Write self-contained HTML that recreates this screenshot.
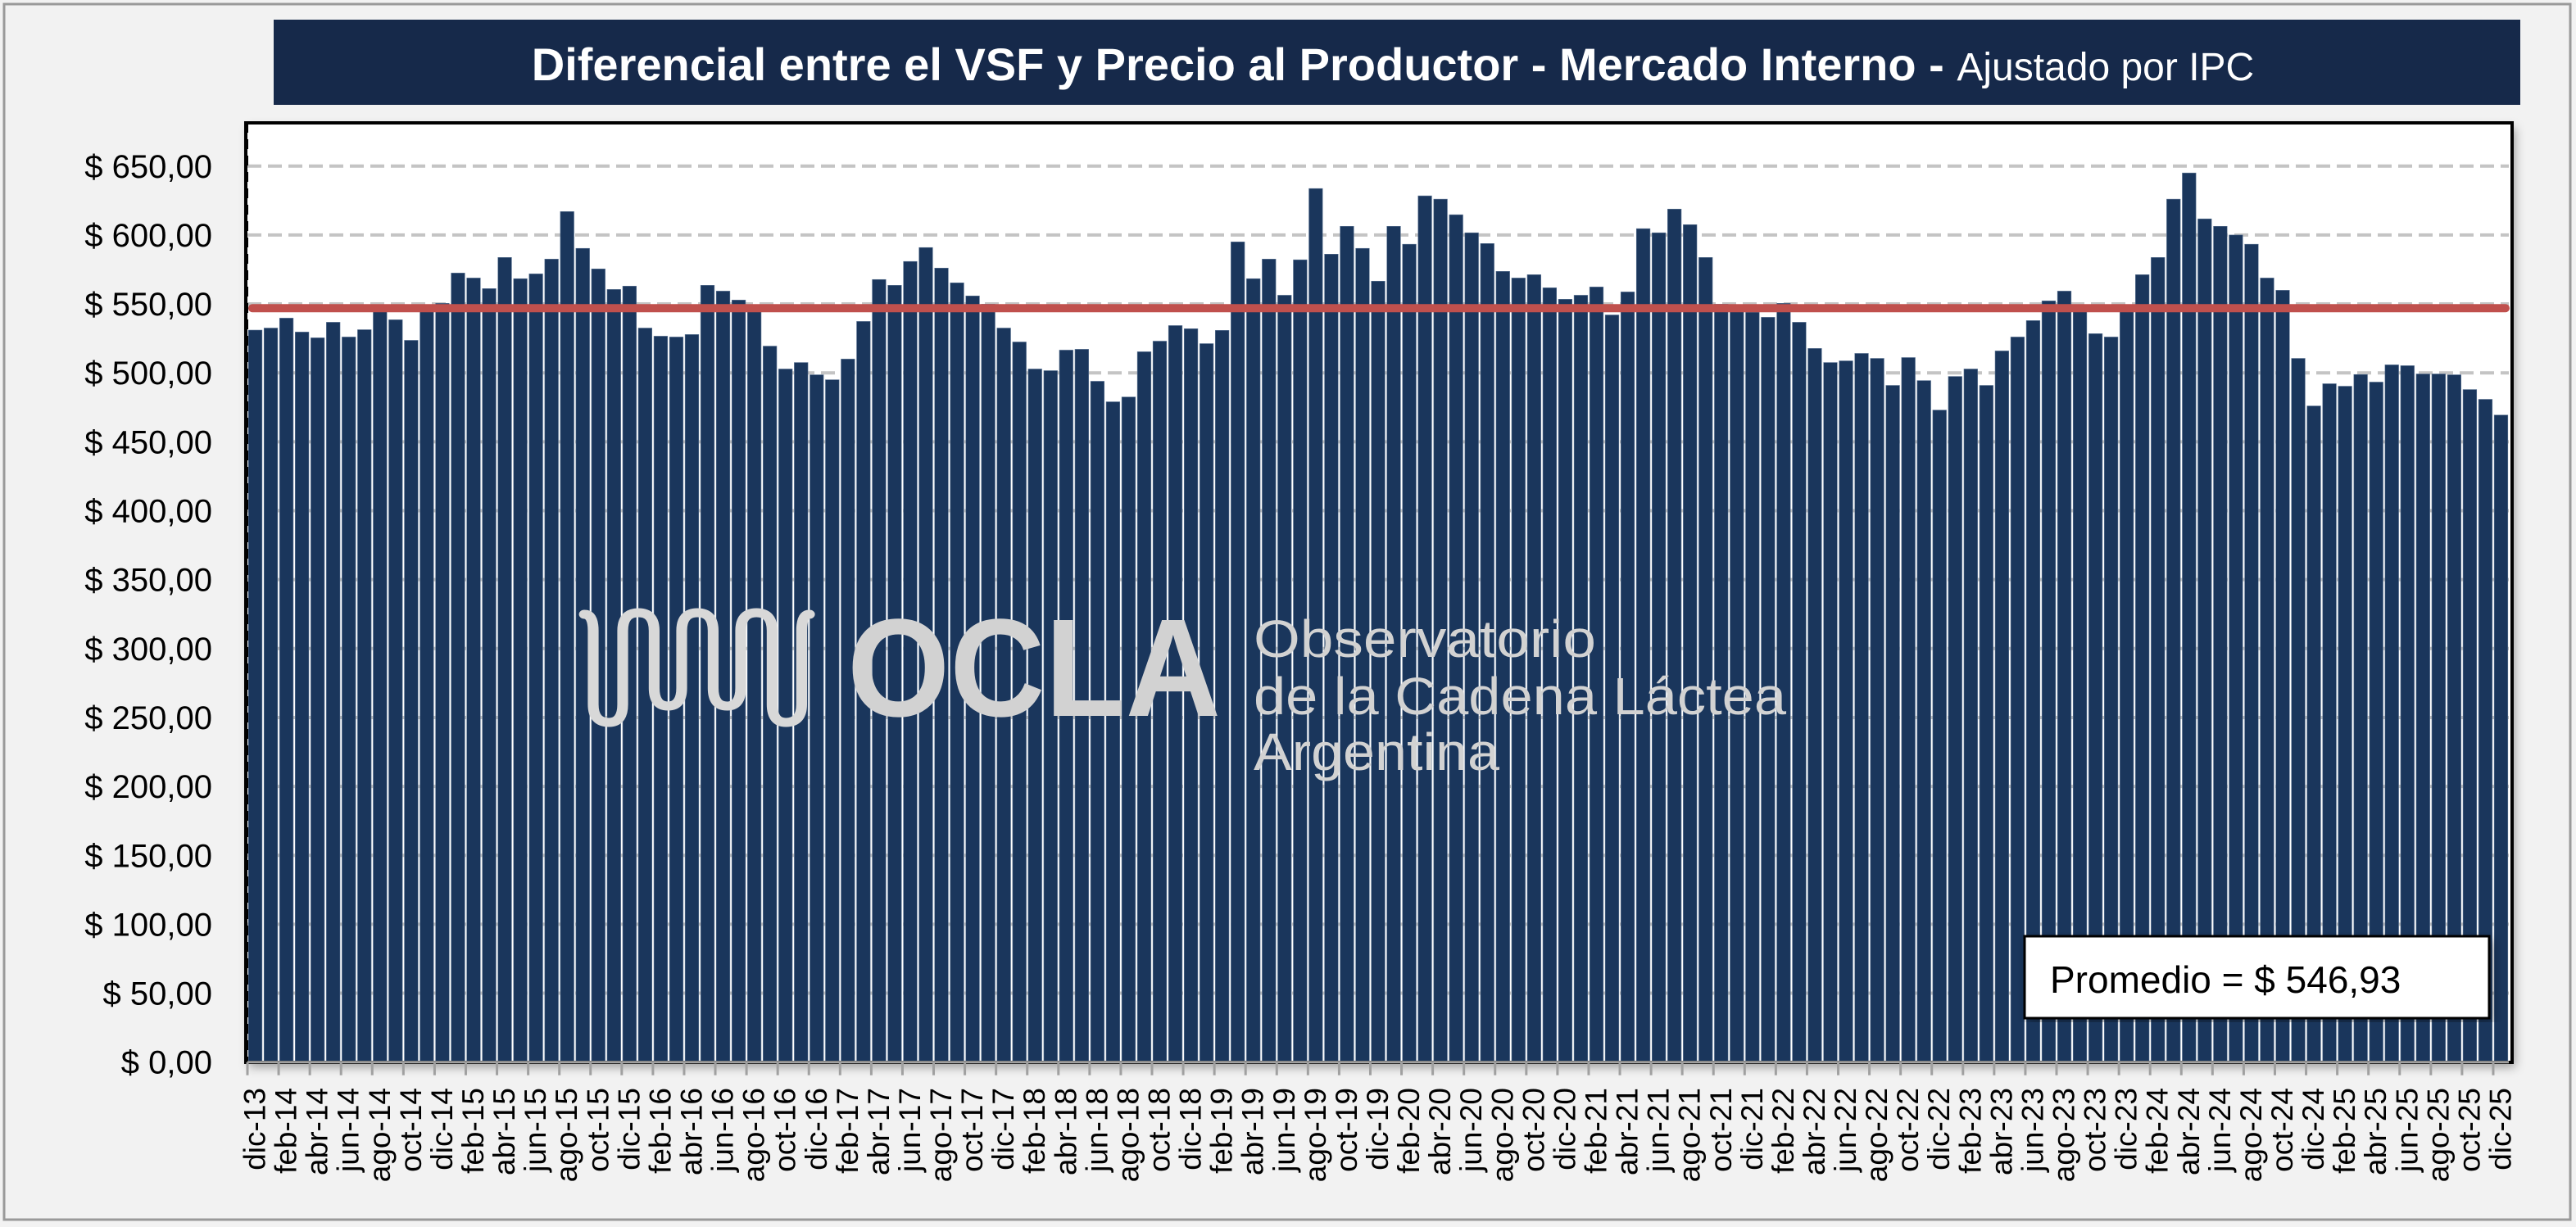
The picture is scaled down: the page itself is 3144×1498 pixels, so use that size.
<!DOCTYPE html>
<html><head><meta charset="utf-8"><style>
html,body{margin:0;padding:0;background:#f2f2f2;}
svg{display:block;font-family:"Liberation Sans",sans-serif;}
</style></head><body>
<svg id="chart" width="3144" height="1498" viewBox="0 0 3144 1498" xmlns="http://www.w3.org/2000/svg">
<defs>
<filter id="sh" x="-5%" y="-5%" width="110%" height="110%"><feDropShadow dx="4" dy="6" stdDeviation="6" flood-color="#000" flood-opacity="0.35"/></filter>
</defs>
<rect x="0" y="0" width="3144" height="1498" fill="#f2f2f2"/>
<rect x="5" y="5" width="3132" height="1484" fill="none" stroke="#9a9a9a" stroke-width="3"/>
<rect x="334" y="24" width="2742" height="104" fill="#16294a"/>
<text x="1700" y="98" text-anchor="middle" fill="#fff" font-size="56"><tspan font-weight="bold">Diferencial entre el VSF y Precio al Productor - Mercado Interno - </tspan><tspan font-size="48">Ajustado por IPC</tspan></text>
<rect x="300" y="150" width="2766" height="1147" fill="#fff" filter="url(#sh)"/>
<g id="grid"></g>
<g id="bars"></g>
<g id="watermark" fill="#d2d2d2">
<g transform="translate(712,0) scale(1.2,1) translate(-712,0)">
<path d="M713 750 Q722 750 722 770 L722 860 Q722 882 738 882 Q752 882 752 860 L752 770 Q752 748 768 748 Q784 748 784 770 L784 840 Q784 862 798 862 Q812 862 812 840 L812 770 Q812 748 828 748 Q844 748 844 770 L844 840 Q844 862 858 862 Q872 862 872 840 L872 770 Q872 748 888 748 Q904 748 904 770 L904 860 Q904 882 918 882 Q934 882 934 860 L934 770 Q934 750 942 750" fill="none" stroke="#d8d8d8" stroke-width="11" stroke-linecap="round"/>
</g>
<text x="1034" y="874" font-size="170" font-weight="bold" textLength="456" lengthAdjust="spacingAndGlyphs">OCLA</text>
<text x="1530" y="802" font-size="64" textLength="418" lengthAdjust="spacingAndGlyphs">Observatorio</text>
<text x="1530" y="872" font-size="64" textLength="650" lengthAdjust="spacingAndGlyphs">de la Cadena Láctea</text>
<text x="1530" y="940" font-size="64" textLength="300" lengthAdjust="spacingAndGlyphs">Argentina</text>
</g>
<g id="avg"></g>
<rect x="300" y="150" width="2766" height="1147" fill="none" stroke="#000" stroke-width="4"/>
<line x1="301" y1="150" x2="301" y2="1297" stroke="#000" stroke-width="4" stroke-dasharray="12 8"/>
<g id="axes"></g>
<rect x="2471" y="1143" width="567" height="100" fill="#fff" stroke="#000" stroke-width="3" filter="url(#sh)"/>
<text x="2502" y="1212" font-size="46" fill="#000">Promedio = $ 546,93</text>
</svg>
<script>
const months = ["dic-13","ene-14","feb-14","mar-14","abr-14","may-14","jun-14","jul-14","ago-14","sep-14","oct-14","nov-14","dic-14","ene-15","feb-15","mar-15","abr-15","may-15","jun-15","jul-15","ago-15","sep-15","oct-15","nov-15","dic-15","ene-16","feb-16","mar-16","abr-16","may-16","jun-16","jul-16","ago-16","sep-16","oct-16","nov-16","dic-16","ene-17","feb-17","mar-17","abr-17","may-17","jun-17","jul-17","ago-17","sep-17","oct-17","nov-17","dic-17","ene-18","feb-18","mar-18","abr-18","may-18","jun-18","jul-18","ago-18","sep-18","oct-18","nov-18","dic-18","ene-19","feb-19","mar-19","abr-19","may-19","jun-19","jul-19","ago-19","sep-19","oct-19","nov-19","dic-19","ene-20","feb-20","mar-20","abr-20","may-20","jun-20","jul-20","ago-20","sep-20","oct-20","nov-20","dic-20","ene-21","feb-21","mar-21","abr-21","may-21","jun-21","jul-21","ago-21","sep-21","oct-21","nov-21","dic-21","ene-22","feb-22","mar-22","abr-22","may-22","jun-22","jul-22","ago-22","sep-22","oct-22","nov-22","dic-22","ene-23","feb-23","mar-23","abr-23","may-23","jun-23","jul-23","ago-23","sep-23","oct-23","nov-23","dic-23","ene-24","feb-24","mar-24","abr-24","may-24","jun-24","jul-24","ago-24","sep-24","oct-24","nov-24","dic-24","ene-25","feb-25","mar-25","abr-25","may-25","jun-25","jul-25","ago-25","sep-25","oct-25","nov-25","dic-25"];
const values = [531,532.5,539.7,529.6,525.4,536.7,526,531.3,544.4,538.5,523.6,546,
550.4,572.4,568.8,561.1,583.7,568.3,571.8,582.5,617,590.3,575.4,560.5,
562.9,532.5,526.6,526,527.8,563.5,559.3,552.8,546,519.4,502.8,507.5,
498.6,495,510,537.3,567.7,563.5,580.8,590.9,576,565.3,555.8,549.8,
532.5,522.4,502.8,501.6,516.5,517.1,493.9,479,482.5,515.3,523,534.3,
532,521.2,530.8,595,568.3,582.5,556.3,582,633.7,586.1,606.3,590.3,
566.5,606.3,593.3,628.4,626,614.7,601.6,593.8,573.6,568.8,571.2,561.7,
553.4,556.3,562.3,542,558.7,604.6,601.6,618.8,607.5,583.7,549.8,546,
544,540.3,550.4,536.7,517.7,507.5,508.7,514.1,510.5,490.9,511.1,494.4,
473,497.4,502.8,490.9,515.9,526,537.9,552.2,559.3,546,528.4,526,
546,571.2,583.7,626,645,611.7,606.3,600,593.3,568.8,559.9,510.5,
476,492.1,490.3,498.8,493.3,505.8,505.2,499.2,499.2,498.6,487.9,480.8,469.4];
const average = [546.93];
const yTicks = [0,50,100,150,200,250,300,350,400,450,500,550,600,650];
const yTickLabels = ["$ 0,00","$ 50,00","$ 100,00","$ 150,00","$ 200,00","$ 250,00","$ 300,00","$ 350,00","$ 400,00","$ 450,00","$ 500,00","$ 550,00","$ 600,00","$ 650,00"];

const NS = "http://www.w3.org/2000/svg";
const X0 = 302, X1 = 3062, Y0 = 1296.7, PXU = 1.683;
const pitch = (X1 - X0) / values.length;
function xs(i){ return X0 + i * pitch; }
function ys(v){ return Y0 - v * PXU; }
function mk(tag, attrs, parent){ const e = document.createElementNS(NS, tag); for (const k in attrs) e.setAttribute(k, attrs[k]); parent.appendChild(e); return e; }

const grid = document.getElementById('grid');
yTicks.forEach(function(t){
  if (t === 0) return;
  const l = mk('line', {x1: X0, x2: X1, y1: ys(t), y2: ys(t), stroke: '#c4c4c4', 'stroke-width': 4, 'stroke-dasharray': '17 8'}, grid);
  
  
});

const bars = document.getElementById('bars');
values.forEach(function(v, i){
  const r = mk('rect', {x: xs(i) + 1.2, y: ys(v), width: pitch - 2.4, height: Y0 - ys(v), fill: '#1a365c', stroke: '#5d7594', 'stroke-width': 0.6}, bars);
  
  
});

const avg = document.getElementById('avg');
const al = mk('line', {x1: X0 + 6, x2: X1 - 4, y1: ys(average[0]), y2: ys(average[0]), stroke: '#c0504d', 'stroke-width': 10, 'stroke-linecap': 'round'}, avg);



const axes = document.getElementById('axes');
const xl = mk('line', {x1: X0, x2: X1, y1: Y0, y2: Y0, stroke: '#a0a0a0', 'stroke-width': 3}, axes);


yTicks.forEach(function(t, k){
  const tx = mk('text', {x: 259, y: ys(t) + 14, 'text-anchor': 'end', 'font-size': 40, fill: '#000'}, axes);
  tx.textContent = yTickLabels[k];
  
  
});
for (let i = 0; i <= values.length; i += 2) {
  const tk = mk('line', {x1: xs(i), x2: xs(i), y1: Y0, y2: Y0 + 16, stroke: '#a0a0a0', 'stroke-width': 3}, axes);
  
  
}
months.forEach(function(m, i){
  if (i % 2) return;
  const cx = xs(i) + pitch / 2 + 12;
  const tx = mk('text', {x: cx, y: 1328, 'text-anchor': 'end', 'font-size': 37, fill: '#000', transform: 'rotate(-90 ' + cx + ' 1328)'}, axes);
  tx.textContent = m;
  
  
});
</script>
</body></html>
